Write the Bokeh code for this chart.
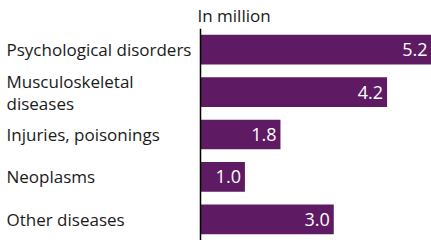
from bokeh.plotting import figure
from bokeh.models import ColumnDataSource, FactorRange, Range1d, Span
from bokeh.core.properties import value
from bokeh.embed import file_html
from bokeh.resources import INLINE

categories = ["Psychological disorders", "Musculoskeletal\ndiseases",
              "Injuries, poisonings", "Neoplasms", "Other diseases"]
values = [5.2, 4.2, 1.8, 1.0, 3.0]
value_labels = ["5.2", "4.2", "1.8", "1.0", "3.0"]

FONT = "Open Sans"
BAR = "#5e1a62"
TXT = "#1a1a1a"

W, H = 431, 240
LABEL_W = 200                      # pixels reserved for category labels
x_max = max(values)
x_min = -x_max * LABEL_W / (W - LABEL_W)

src = ColumnDataSource(dict(cat=categories, val=values, lab=value_labels,
                            base=[0] * len(values),
                            lx=[x_min] * len(values)))

p = figure(width=W, height=H, output_backend="svg", toolbar_location=None,
           y_range=FactorRange(factors=list(reversed(categories))),
           x_range=Range1d(x_min, x_max),
           min_border_left=0, min_border_right=0, min_border_top=0,
           min_border_bottom=0)

p.hbar(y="cat", right="val", left="base", height=0.7, source=src,
       fill_color=BAR, line_color=None)

p.text(x="val", y="cat", text="lab", source=src,
       x_offset=-4, text_align="right", text_baseline="middle",
       text_color="white", text_font=value(FONT), text_font_size="18px")

p.text(x="lx", y="cat", text="cat", source=src, x_offset=6,
       text_align="left", text_baseline="middle",
       text_color=TXT, text_font=value(FONT), text_font_size="17px",
       text_line_height=0.95)

p.add_layout(Span(location=0, dimension="height", line_color="black",
                  line_width=1.5))

p.title.text = "In million"
p.title.align = "left"
p.title.text_font = FONT
p.title.text_font_size = "17px"
p.title.text_font_style = "normal"
p.title.text_color = TXT
p.title.offset = LABEL_W - 3
p.title.standoff = 3

p.xaxis.visible = False
p.yaxis.visible = False
p.xgrid.visible = False
p.ygrid.visible = False
p.outline_line_color = None

open("out.html", "w").write(file_html(p, INLINE))
